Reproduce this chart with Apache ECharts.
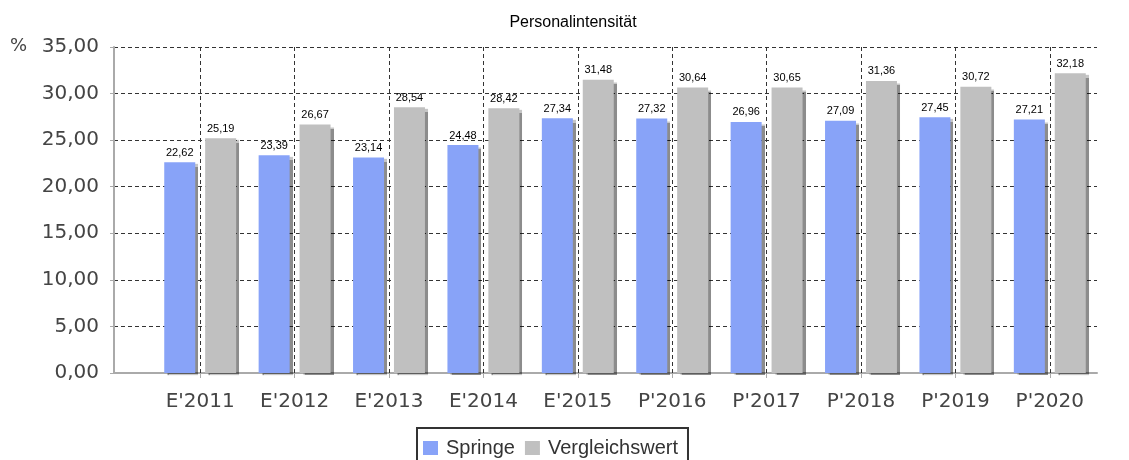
<!DOCTYPE html>
<html>
<head>
<meta charset="utf-8">
<script src="https://cdn.jsdelivr.net/npm/echarts@6/dist/echarts.min.js"></script>
<style>
  html, body { margin: 0; padding: 0; background: #fff; }
  #chart { width: 1129px; height: 460px; }
</style>
</head>
<body>
<div id="chart"></div>
<script>
const years = ["E'2011", "E'2012", "E'2013", "E'2014", "E'2015", "P'2016", "P'2017", "P'2018", "P'2019", "P'2020"];
const springe = [22.62, 23.39, 23.14, 24.48, 27.34, 27.32, 26.96, 27.09, 27.45, 27.21];
const vergleich = [25.19, 26.67, 28.54, 28.42, 31.48, 30.64, 30.65, 31.36, 30.72, 32.18];

const fmt = v => v.toFixed(2).replace('.', ',');
const dash = { type: [4, 3], color: '#333', width: 1 };

const barLabel = {
  show: true,
  position: 'top',
  distance: 4,
  fontFamily: 'Liberation Sans, Arial',
  fontSize: 11,
  color: '#000',
  formatter: p => fmt(p.value)
};
const shadow = {
  shadowColor: 'rgba(0,0,0,0.45)',
  shadowOffsetX: 3,
  shadowOffsetY: 2,
  shadowBlur: 1
};

const chart = echarts.init(document.getElementById('chart'));
chart.setOption({
  animation: false,
  title: {
    text: 'Personalintensität',
    left: 568,
    textAlign: 'center',
    top: 10,
    textStyle: { fontFamily: 'Liberation Sans, Arial', fontSize: 16, fontWeight: 'normal', color: '#000' }
  },
  graphic: [{
    type: 'text',
    left: 10,
    top: 37,
    style: { text: '%', font: '18px DejaVu Sans', fill: '#444' }
  }],
  legend: {
    data: ['Springe', 'Vergleichswert'],
    left: 417,
    top: 428,
    icon: 'rect',
    itemWidth: 15,
    itemHeight: 14,
    itemGap: 10,
    padding: [10, 10, 8, 6],
    borderColor: '#333',
    borderWidth: 2,
    textStyle: { fontFamily: 'Liberation Sans, Arial', fontSize: 20, color: '#333', padding: [0, 0, 0, 3] }
  },
  grid: [
    { left: 114, right: 32, top: 47, bottom: 87 },
    { left: 153, right: 32, top: 47, bottom: 87 }
  ],
  xAxis: [{
    gridIndex: 0,
    type: 'value',
    min: 0,
    max: 1,
    axisLine: { show: true, onZero: false, lineStyle: { color: '#aaa', width: 2 } },
    axisTick: { show: false },
    axisLabel: { show: false },
    splitLine: { show: false }
  }, {
    gridIndex: 1,
    type: 'category',
    data: years,
    axisLine: { show: false },
    axisTick: { show: true, alignWithLabel: true, length: 5, lineStyle: { color: '#aaa' } },
    axisLabel: { margin: 19, fontFamily: 'DejaVu Sans', fontSize: 20, color: '#444' },
    splitLine: { show: false }
  }],
  yAxis: [{
    gridIndex: 0,
    type: 'value',
    min: 0,
    max: 35,
    interval: 5,
    axisLine: { show: true, lineStyle: { color: '#aaa', width: 2 } },
    axisTick: { show: true, length: 4, lineStyle: { color: '#aaa' } },
    axisLabel: { margin: 15, fontFamily: 'DejaVu Sans', fontSize: 20, color: '#444', formatter: v => fmt(v) },
    splitLine: { show: true, lineStyle: dash }
  }, {
    gridIndex: 1,
    type: 'value',
    min: 0,
    max: 35,
    show: false,
    splitLine: { show: false }
  }],
  series: [{
    name: 'Springe',
    type: 'bar',
    xAxisIndex: 1,
    yAxisIndex: 1,
    data: springe,
    barWidth: 31,
    barGap: '32%',
    itemStyle: Object.assign({ color: '#88A3F8' }, shadow),
    label: barLabel
  }, {
    name: 'Vergleichswert',
    type: 'bar',
    xAxisIndex: 1,
    yAxisIndex: 1,
    data: vergleich,
    barWidth: 31,
    barGap: '32%',
    itemStyle: Object.assign({ color: '#C0C0C0' }, shadow),
    label: barLabel
  }, {
    // vertical dashed lines at the category centres
    name: 'raster',
    type: 'line',
    xAxisIndex: 1,
    yAxisIndex: 1,
    data: [],
    silent: true,
    markLine: {
      silent: true,
      symbol: 'none',
      label: { show: false },
      lineStyle: dash,
      data: years.map(y => ({ xAxis: y }))
    }
  }]
});
</script>
</body>
</html>
